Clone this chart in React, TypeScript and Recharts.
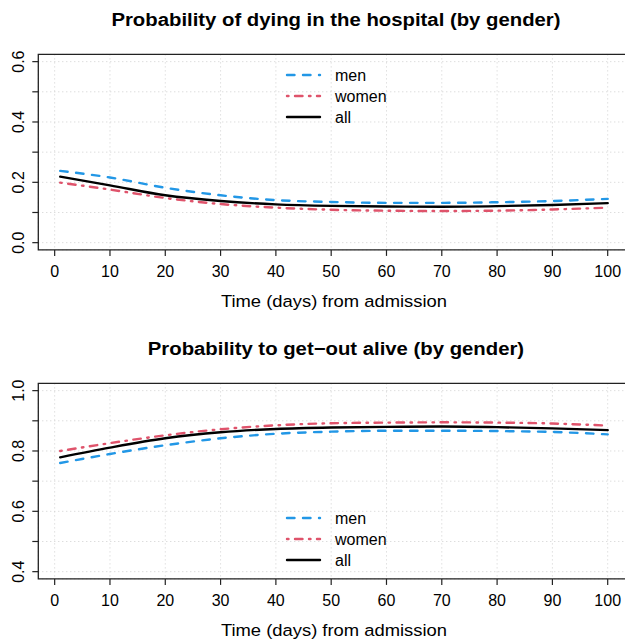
import React from "react";
import {
  LineChart,
  Line,
  XAxis,
  YAxis,
  CartesianGrid,
  ReferenceArea,
  Legend,
  Customized,
} from "recharts";

// ---- data ----
const days = [1, 10, 20, 30, 40, 50, 60, 70, 80, 90, 100];

const deathMen = [0.238, 0.216, 0.182, 0.157, 0.141, 0.135, 0.132, 0.132, 0.134, 0.138, 0.145];
const deathWomen = [0.199, 0.176, 0.148, 0.128, 0.116, 0.109, 0.106, 0.105, 0.106, 0.11, 0.116];
const deathAll = [0.219, 0.19, 0.157, 0.138, 0.127, 0.122, 0.12, 0.119, 0.121, 0.125, 0.131];

const aliveMen = [0.76, 0.79, 0.819, 0.842, 0.857, 0.864, 0.867, 0.867, 0.866, 0.863, 0.855];
const aliveWomen = [0.8, 0.826, 0.852, 0.872, 0.885, 0.892, 0.894, 0.895, 0.894, 0.891, 0.884];
const aliveAll = [0.779, 0.811, 0.842, 0.862, 0.873, 0.878, 0.88, 0.881, 0.879, 0.875, 0.869];

const xTicks = [0, 10, 20, 30, 40, 50, 60, 70, 80, 90, 100];
const deathTicks = [0, 0.1, 0.2, 0.3, 0.4, 0.5, 0.6];
const aliveTicks = [0.4, 0.5, 0.6, 0.7, 0.8, 0.9, 1.0];

const seriesNames = ["men", "women", "all"];
const seriesKeys = ["men", "women", "all"];

const titleDeath = "Probability of dying in the hospital (by gender)";
const titleAlive = "Probability to get\u2212out alive (by gender)";
const xTitle = "Time (days) from admission";

// ---- styling ----
const FONT = "'Liberation Sans', Arial, Helvetica, sans-serif";
const COLORS: Record<string, string> = { men: "#2297E6", women: "#DF536B", all: "#000000" };
const DASH: Record<string, string | undefined> = {
  men: "7.5 8.5",
  women: "1.5 6.5 7.5 6.5",
  all: undefined,
};
const LW = 2.4;

const CHART_W = 640;
const PLOT_TOP = 54.4;
const PLOT_BOTTOM = 249.9;
const PLOT_LEFT = 38.3;
const PLOT_RIGHT = 629.6;
const X_AXIS_H = 30;

function padRange(lo: number, hi: number): [number, number] {
  const p = (hi - lo) * 0.04;
  return [lo - p, hi + p];
}

function buildRows(men: number[], women: number[], all: number[]) {
  return days.map((d, i) => ({ day: d, men: men[i], women: women[i], all: all[i] }));
}

const XTick = (props: any) => {
  const { x, payload } = props;
  return (
    <text
      x={x}
      y={PLOT_BOTTOM + 26.8}
      textAnchor="middle"
      fontFamily={FONT}
      fontSize={16}
      fill="#000"
    >
      {payload.value}
    </text>
  );
};

const YTick = (props: any) => {
  const { y, payload } = props;
  const v = payload.value as number;
  if (Math.round(v * 10) % 2 !== 0) return <g />;
  const cx = 18.3;
  return (
    <text
      x={cx}
      y={y}
      transform={`rotate(-90 ${cx} ${y})`}
      textAnchor="middle"
      dominantBaseline="central"
      fontFamily={FONT}
      fontSize={16}
      fill="#000"
    >
      {v.toFixed(1)}
    </text>
  );
};

const makeLegend = () => () => (
  <svg width={140} height={70} style={{ display: "block" }}>
    {seriesKeys.map((k, i) => {
      const cy = 13 + i * 21;
      return (
        <g key={k}>
          <line
            x1={7}
            x2={40}
            y1={cy}
            y2={cy}
            stroke={COLORS[k]}
            strokeWidth={LW}
            strokeDasharray={DASH[k]}
            strokeLinecap="round"
          />
          <text
            x={55}
            y={cy}
            dominantBaseline="central"
            fontFamily={FONT}
            fontSize={16}
            fill="#000"
          >
            {seriesNames[i]}
          </text>
        </g>
      );
    })}
  </svg>
);

const Texts = ({ title }: { title: string }) => {
  const cx = (PLOT_LEFT + PLOT_RIGHT) / 2;
  return (
    <g>
      <g transform={`translate(${cx + 2} 25.7) scale(1.07 1)`}>
        <text
          x={0}
          y={0}
          textAnchor="middle"
          fontFamily={FONT}
          fontWeight="bold"
          fontSize={19}
          fill="#000"
        >
          {title}
        </text>
      </g>
      <g transform={`translate(${cx} ${PLOT_BOTTOM + 56.8}) scale(1.07 1)`}>
        <text
          x={0}
          y={0}
          textAnchor="middle"
          fontFamily={FONT}
          fontSize={17.2}
          fill="#000"
        >
          {xTitle}
        </text>
      </g>
    </g>
  );
};

type PanelProps = {
  top: number;
  height: number;
  title: string;
  rows: any[];
  yTicks: number[];
  legendTop: number;
};

const Panel = ({ top, height, title, rows, yTicks, legendTop }: PanelProps) => {
  const xDomain = padRange(days[0], days[days.length - 1]);
  const yDomain = padRange(yTicks[0], yTicks[yTicks.length - 1]);
  return (
    <div
      style={{
        position: "absolute",
        left: 0,
        top,
        width: 625,
        height,
        overflow: "hidden",
      }}
    >
      <LineChart
        width={CHART_W}
        height={height}
        data={rows}
        margin={{
          top: PLOT_TOP,
          right: CHART_W - PLOT_RIGHT,
          left: 0,
          bottom: height - PLOT_BOTTOM - X_AXIS_H,
        }}
      >
        <CartesianGrid stroke="#cfcfcf" strokeDasharray="1 3" strokeWidth={1} />
        <XAxis
          dataKey="day"
          type="number"
          domain={xDomain}
          ticks={xTicks}
          allowDataOverflow
          height={X_AXIS_H}
          axisLine={false}
          tickLine={{ stroke: "#222", strokeWidth: 1.2 }}
          tickSize={6}
          tick={<XTick />}
          interval={0}
          stroke="#222"
        />
        <YAxis
          type="number"
          domain={yDomain}
          ticks={yTicks}
          allowDataOverflow
          width={PLOT_LEFT}
          axisLine={false}
          tickLine={{ stroke: "#222", strokeWidth: 1.2 }}
          tickSize={6}
          tick={<YTick />}
          interval={0}
          stroke="#222"
        />
        <ReferenceArea
          x1={xDomain[0]}
          x2={xDomain[1]}
          y1={yDomain[0]}
          y2={yDomain[1]}
          fill="none"
          fillOpacity={0}
          stroke="#222"
          strokeWidth={1.3}
          ifOverflow="visible"
        />
        {seriesKeys.map((k, i) => (
          <Line
            key={k}
            name={seriesNames[i]}
            dataKey={k}
            type="monotone"
            stroke={COLORS[k]}
            strokeWidth={LW}
            strokeDasharray={DASH[k]}
            strokeLinecap="round"
            dot={false}
            activeDot={false}
            isAnimationActive={false}
          />
        ))}
        <Legend
          layout="vertical"
          align="center"
          verticalAlign="middle"
          content={makeLegend()}
          wrapperStyle={{ left: 280, top: legendTop, width: 140, height: 70 }}
        />
        <Customized component={<Texts title={title} />} />
      </LineChart>
    </div>
  );
}

export default function App() {
  const deathRows = buildRows(deathMen, deathWomen, deathAll);
  const aliveRows = buildRows(aliveMen, aliveWomen, aliveAll);
  return (
    <div style={{ position: "absolute", left: 0, top: 0, width: 625, height: 641, background: "#fff" }}>
      <Panel top={0} height={329} title={titleDeath} rows={deathRows} yTicks={deathTicks} legendTop={62} />
      <Panel top={329} height={312} title={titleAlive} rows={aliveRows} yTicks={aliveTicks} legendTop={175.7} />
    </div>
  );
}
